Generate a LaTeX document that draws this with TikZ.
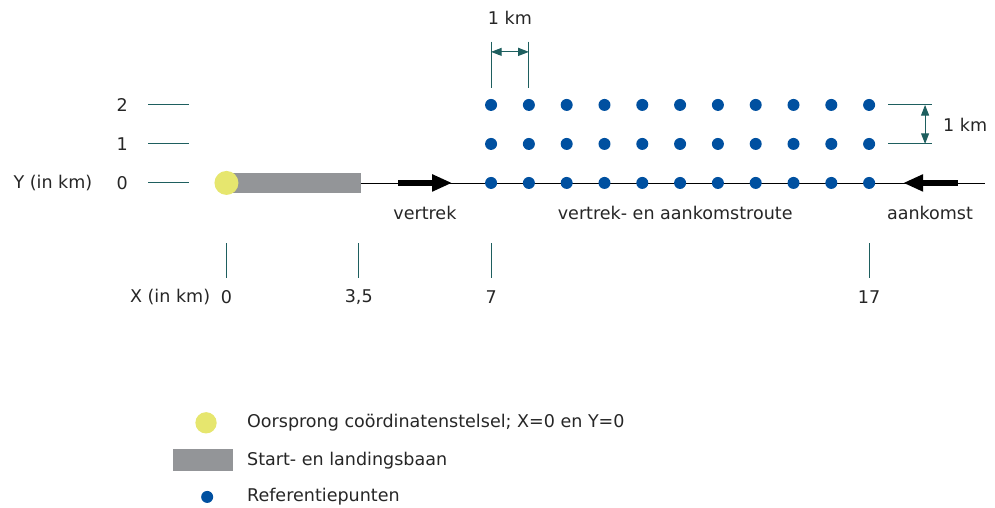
\documentclass[tikz,border=0pt]{standalone}
\usepackage{fontspec}
\setmainfont{DejaVu Sans}
\usetikzlibrary{arrows.meta}
\definecolor{tealline}{RGB}{30,95,95}
\definecolor{refblue}{RGB}{0,80,160}
\definecolor{origyellow}{RGB}{230,230,110}
\definecolor{runwaygray}{RGB}{147,149,152}
\tikzset{
  lbl/.style={font=\fontsize{13.2}{15}\selectfont,text=black!85,inner sep=0pt},
  tick/.style={tealline,line width=0.8pt},
  refdot/.style={circle,fill=refblue,inner sep=0pt,minimum size=9bp},
  origin/.style={circle,fill=origyellow,inner sep=0pt,minimum size=18bp},
  flight/.style={line width=4.5bp,-{Triangle[length=15bp,width=12bp]}},
  dim/.style={tealline,line width=0.8pt,{Triangle[length=8bp,width=6bp]}-{Triangle[length=8bp,width=6bp]}}
}
\begin{document}
\begin{tikzpicture}[x=28.35bp,y=29.25bp]
\useasboundingbox (-5.99,-8.33) rectangle (20.33,4.69);
% baan en route
\fill[runwaygray] (0,-0.26) rectangle (3.55,0.26);
\coordinate (rwend) at (3.55,0);
\coordinate (routeend) at (20.07,0);
\draw[thin] (rwend)--(routeend);
\node[origin] (orig) at (0,0) {};
\foreach \x in {7,...,17}
  \foreach \y in {0,1,2}
    \node[refdot] (p\x-\y) at (\x,\y) {};
\coordinate (dep1) at (4.54,0); \coordinate (dep2) at (5.97,0);
\draw[flight] (dep1)--(dep2);
\coordinate (arr1) at (19.35,0); \coordinate (arr2) at (17.9,0);
\draw[flight] (arr1)--(arr2);
\node[lbl] (vertrek) at (5.25,-0.77) {vertrek};
\node[lbl] (route) at (11.87,-0.77) {vertrek- en aankomstroute};
\node[lbl] (aankomst) at (18.61,-0.77) {aankomst};
% Y-as
\node[lbl] (ylab) at (-4.59,0) {Y (in km)};
\foreach \y in {0,1,2}{
  \node[lbl] (y\y) at (-2.76,\y) {\y};
  \coordinate (ya\y) at (-2.07,\y); \coordinate (yb\y) at (-0.99,\y);
  \draw[tick] (ya\y)--(yb\y);
}
% X-as
\node[lbl] (xlab) at (-1.49,-2.92) {X (in km)};
\foreach \x/\t/\n in {0/0/a,3.5/{3,5}/b,7/7/c,17/17/d}{
  \node[lbl] (x\n) at (\x,-2.92) {\t};
  \coordinate (xa\n) at (\x,-1.54); \coordinate (xb\n) at (\x,-2.44);
  \draw[tick] (xa\n)--(xb\n);
}
% maatvoering
\coordinate (ta) at (7,3.62); \coordinate (tb) at (7,2.44);
\coordinate (tc) at (8,3.62); \coordinate (td) at (8,2.44);
\draw[tick] (ta)--(tb) (tc)--(td);
\coordinate (hl) at (7,3.36); \coordinate (hr) at (8,3.36);
\draw[dim] (hl)--(hr);
\node[lbl] (kmtop) at (7.5,4.23) {1 km};
\coordinate (ra) at (17.5,2); \coordinate (rb) at (18.67,2);
\coordinate (rc) at (17.5,1); \coordinate (rd) at (18.67,1);
\draw[tick] (ra)--(rb) (rc)--(rd);
\coordinate (vu) at (18.48,2); \coordinate (vd) at (18.48,1);
\draw[dim] (vu)--(vd);
\node[lbl] (kmright) at (19.54,1.5) {1 km};
% legenda
\node[origin,minimum size=16bp] (legorig) at (-0.54,-6.15) {};
\node[lbl,anchor=west] (legt1) at (0.54,-6.15) {Oorsprong coördinatenstelsel; X=0 en Y=0};
\fill[runwaygray] (-1.41,-6.82) rectangle (0.17,-7.38);
\node[lbl,anchor=west] (legt2) at (0.54,-7.12) {Start- en landingsbaan};
\node[refdot] (legdot) at (-0.51,-8.05) {};
\node[lbl,anchor=west] (legt3) at (0.54,-8.05) {Referentiepunten};
\end{tikzpicture}
\end{document}
